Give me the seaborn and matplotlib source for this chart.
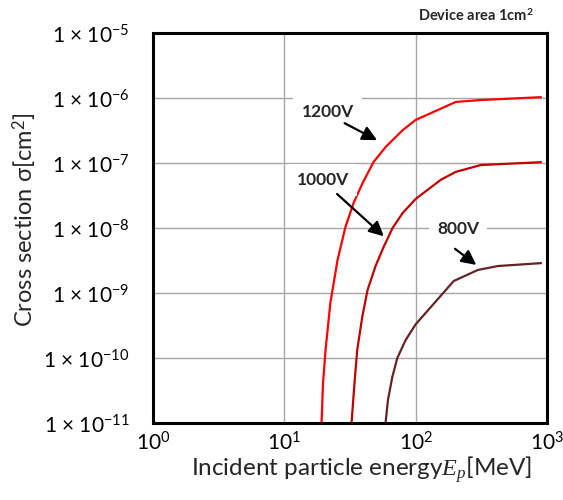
import numpy as np
import pandas as pd
import matplotlib
matplotlib.use("Agg")
import matplotlib.pyplot as plt
import matplotlib.ticker as mticker
import seaborn as sns

# ---- data ----
voltages = ["1200V", "1000V", "800V"]
E_1200 = [19.2, 19.7, 20.6, 22.4, 25.4, 29.2, 33.6, 39.4, 47.7, 59.0, 79.6, 100, 202, 313, 900]
S_1200 = [1e-11, 4.1e-11, 1.33e-10, 7.0e-10, 3.2e-9, 1.04e-8, 2.4e-8, 4.9e-8, 1.03e-7, 1.76e-7,
          3.2e-7, 4.6e-7, 8.7e-7, 9.3e-7, 1.03e-6]
E_1000 = [32.5, 34.2, 35.9, 39.2, 43.0, 49.5, 57.0, 66.7, 79.6, 100, 155, 202, 313, 900]
S_1000 = [1e-11, 4.1e-11, 1.33e-10, 4.28e-10, 1.11e-9, 2.6e-9, 5.1e-9, 1e-8, 1.7e-8, 2.8e-8,
          5.5e-8, 7.3e-8, 9.3e-8, 1.03e-7]
E_800 = [59.0, 61.5, 66.4, 72.5, 83.9, 100, 195, 297, 423, 900]
S_800 = [1e-11, 2.26e-11, 5.1e-11, 1e-10, 1.89e-10, 3.3e-10, 1.53e-9, 2.26e-9, 2.6e-9, 2.88e-9]
colors = {"1200V": "#FF0000", "1000V": "#C00000", "800V": "#632523"}
y_exponents = [-11, -10, -9, -8, -7, -6, -5]
x_exponents = [0, 1, 2, 3]

df = pd.concat([
    pd.DataFrame({"E": E_1200, "sigma": S_1200, "V": "1200V"}),
    pd.DataFrame({"E": E_1000, "sigma": S_1000, "V": "1000V"}),
    pd.DataFrame({"E": E_800, "sigma": S_800, "V": "800V"}),
], ignore_index=True)

sns.set_style("white")
plt.rcParams["font.family"] = ["Lato", "DejaVu Sans"]
plt.rcParams["mathtext.fontset"] = "custom"
plt.rcParams["mathtext.rm"] = "Lato"
plt.rcParams["mathtext.it"] = "Liberation Serif:italic"
plt.rcParams["mathtext.bf"] = "Lato:bold"

fig = plt.figure(figsize=(5.63, 5.0), dpi=100)
ax = fig.add_axes([153 / 563, 1 - 423 / 500, 394 / 563, 390 / 500])

sns.lineplot(data=df, x="E", y="sigma", hue="V", hue_order=voltages, palette=colors,
             sort=False, estimator=None, linewidth=1.6, legend=False, ax=ax)

ax.set_xscale("log")
ax.set_yscale("log")
ax.set_xlim(1, 1000)
ax.set_ylim(1e-11, 1e-5)

ax.xaxis.set_major_locator(mticker.FixedLocator([10.0 ** e for e in x_exponents]))
ax.xaxis.set_minor_locator(mticker.NullLocator())
ax.yaxis.set_major_locator(mticker.FixedLocator([10.0 ** e for e in y_exponents]))
ax.yaxis.set_minor_locator(mticker.NullLocator())
ax.set_xticklabels([r"10$^{%d}$" % e for e in x_exponents])
ax.set_yticklabels([r"1 × 10$^{%d}$" % e for e in y_exponents])

ax.grid(True, which="major", color="#A6A6A6", linewidth=1.0)
ax.set_axisbelow(True)
for s in ax.spines.values():
    s.set_visible(True)
    s.set_color("black")
    s.set_linewidth(2.2)

ax.tick_params(axis="y", direction="in", length=5, width=2, pad=17, labelsize=15, colors="black")
ax.tick_params(axis="x", direction="in", length=5, width=2, pad=6, labelsize=15, colors="black")

ax.set_xlabel(r"Incident particle energy$E_p$[MeV]", fontsize=17.5)
ax.set_ylabel(r"Cross section σ[cm$^2$]", fontsize=17)
ax.xaxis.set_label_coords(0.53, -0.12)
ax.xaxis.label.set_va("center")
ax.yaxis.set_label_coords(-0.325, 0.52)
ax.yaxis.label.set_va("center")

# annotations (axes-fraction placement)
labels = [("1200V", (0.444, 0.797), (0.480, 0.772), (0.575, 0.722)),
          ("1000V", (0.431, 0.623), (0.462, 0.592), (0.591, 0.474)),
          ("800V", (0.774, 0.497), (0.761, 0.451), (0.826, 0.401))]
for txt, tpos, tail, tip in labels:
    ax.text(tpos[0], tpos[1], txt, transform=ax.transAxes, ha="center", va="center",
            fontsize=12.5, fontweight="bold",
            bbox=dict(facecolor="white", edgecolor="none", pad=6), zorder=4)
    ax.annotate("", xy=tip, xycoords="axes fraction", xytext=tail, textcoords="axes fraction",
                arrowprops=dict(arrowstyle="-|>", color="black", lw=1.6, mutation_scale=22),
                zorder=5)

fig.text(476 / 563, 1 - 16 / 500, r"Device area 1cm$^\mathbf{2}$", ha="center", va="center",
         fontsize=10.5, fontweight="bold")

fig.savefig("out.png", dpi=100)
